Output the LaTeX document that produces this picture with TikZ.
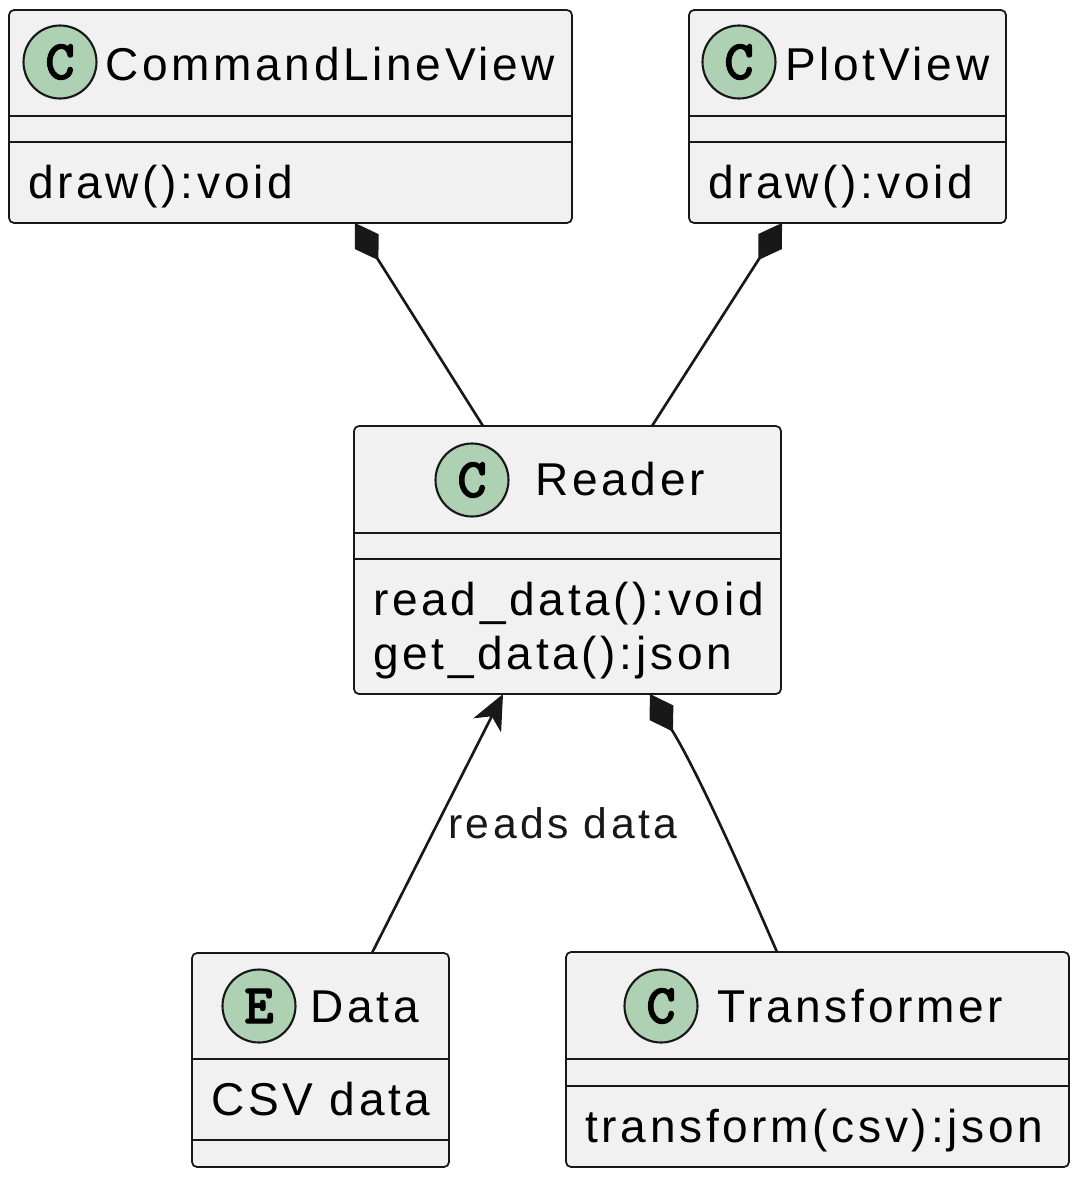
\documentclass[tikz,border=0pt]{standalone}
\usepackage{fontspec}
\setmainfont{Liberation Sans}[LetterSpace=8]
\newfontfamily\spotfont{lmmonolt10-bold.otf}[FakeBold=1.6]
\usetikzlibrary{arrows.meta,fit}

\definecolor{boxfill}{HTML}{F1F1F1}
\definecolor{boxline}{HTML}{181818}
\definecolor{spotfill}{HTML}{ADD1B2}

\begin{document}
\begin{tikzpicture}[
    x = 0.02cm,
    y = -0.02cm,
    class/.style = {
      draw = boxline,
      fill = boxfill,
      line width = 1pt,
      rounded corners = 0.1cm,
      inner sep = 0pt,
      outer sep = 0pt
    },
    spot/.style = {
      draw = boxline,
      fill = spotfill,
      circle,
      line width = 1.2pt,
      inner sep = 0pt,
      minimum size = 1.46cm,
      font = \spotfont\fontsize{32}{32}\selectfont
    },
    txt/.style = {
      anchor = base west,
      inner sep = 0pt,
      font = \fontsize{26.2}{30}\selectfont
    },
    lbl/.style = {
      anchor = base west,
      inner sep = 0pt,
      font = \fontsize{24.3}{28}\selectfont
    },
    divider/.style = {boxline, line width = 1pt},
    link/.style = {boxline, line width = 1.5pt},
    comp/.style = {link, {Diamond[length=0.88cm,width=0.56cm]}-},
    reads/.style = {link, -{Stealth[length=0.7cm,width=0.62cm,inset=0.2cm]}}
  ]
  \useasboundingbox (0,0) rectangle (1084,1184);

  % classes
  \node[class, fit={(9,10) (572,223)}]     (clv)    {};
  \node[class, fit={(689,10) (1006,223)}]  (plot)   {};
  \node[class, fit={(354,426) (781,694)}]  (reader) {};
  \node[class, fit={(192,953) (449,1167)}] (data)   {};
  \node[class, fit={(566,952) (1069,1167)}] (trans) {};

  \node[spot] (clvspot) at (60,62) {C};
  \node[txt]  (clvname) at (105,80) {CommandLineView};
  \draw[divider] (clv.west |- 0,116) -- (clv.east |- 0,116);
  \draw[divider] (clv.west |- 0,142) -- (clv.east |- 0,142);
  \node[txt]  (clvdraw) at (28,198) {draw():void};

  \node[spot] (plotspot) at (739,62) {C};
  \node[txt]  (plotname) at (785,80) {PlotView};
  \draw[divider] (plot.west |- 0,116) -- (plot.east |- 0,116);
  \draw[divider] (plot.west |- 0,142) -- (plot.east |- 0,142);
  \node[txt]  (plotdraw) at (708,198) {draw():void};

  \node[spot] (readerspot) at (472,480) {C};
  \node[txt]  (readername) at (535,495) {Reader};
  \draw[divider] (reader.west |- 0,533) -- (reader.east |- 0,533);
  \draw[divider] (reader.west |- 0,559) -- (reader.east |- 0,559);
  \node[txt]  (readerread) at (373,615) {read\_data():void};
  \node[txt]  (readerget)  at (373,669) {get\_data():json};

  \node[spot] (dataspot) at (259,1006) {E};
  \node[txt]  (dataname) at (310,1022) {Data};
  \draw[divider] (data.west |- 0,1059) -- (data.east |- 0,1059);
  \node[txt]  (datacsv)  at (211,1115) {CSV data};
  \draw[divider] (data.west |- 0,1140) -- (data.east |- 0,1140);

  \node[spot] (transspot) at (661,1006) {C};
  \node[txt]  (transname) at (717,1022) {Transformer};
  \draw[divider] (trans.west |- 0,1059) -- (trans.east |- 0,1059);
  \draw[divider] (trans.west |- 0,1086) -- (trans.east |- 0,1086);
  \node[txt]  (transfn)   at (585,1142) {transform(csv):json};

  % relations
  \draw[comp] ([xshift=1.29cm]clv.south) -- ([xshift=-1.69cm]reader.north);
  \draw[comp] ([xshift=-1.31cm]plot.south) -- ([xshift=1.69cm]reader.north);
  \draw[reads] ([xshift=1.03cm]data.north) --
    node[lbl, pos=0.488, xshift=0.22cm, yshift=-0.24cm] (readslbl) {reads data}
    ([xshift=-1.29cm]reader.south);
  \draw[comp] ([xshift=1.65cm]reader.south) .. controls +(47,77) and +(-40,-92) .. ([xshift=-0.81cm]trans.north);
\end{tikzpicture}
\end{document}
